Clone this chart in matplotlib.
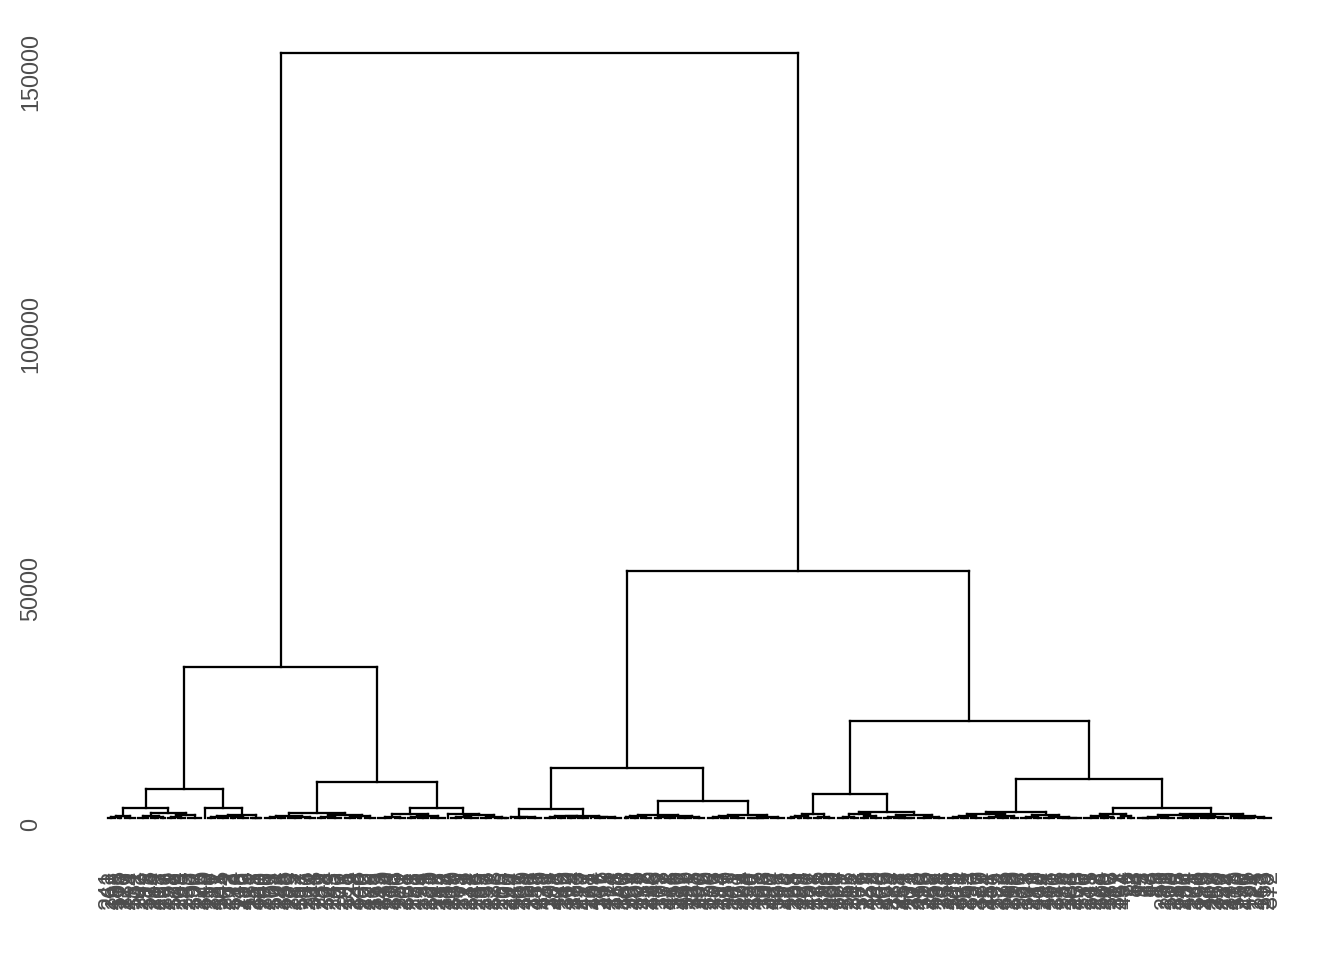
import matplotlib
matplotlib.use("Agg")
import matplotlib.pyplot as plt
from matplotlib.collections import LineCollection

# dolne grupy liści: [wysokość, lewe, prawe], liczba = paczka identycznych liści (wysokość 0)
groups = {
    "A1a_L": [420, [150, 3, 2], 4],
    "A1a_R": [900, [380, 4, [160, 3, 2]], [520, [200, 3, 3], 5]],
    "A1b_L": 1,
    "A1b_RL": [380, [120, 3, 4], [210, 2, 4]],
    "A1b_RR": [90, 2, 2],
    "A2_LL": [460, [170, 4, 3], [260, 5, 4]],
    "A2_LR": [640, [230, 3, 5], [300, [110, 4, 2], 4]],
    "A2_RL": [720, [250, 5, 4], [330, [140, 3, 4], 5]],
    "A2_RRL": 1,
    "A2_RRR": [520, [180, 4, 5], [240, 4, [90, 3, 2]]],
    "B1_LL": [260, 1, [120, 4, 5]],
    "B1_LRL": [300, [120, 4, 3], [150, 3, 4]],
    "B1_LRR": [280, 1, [130, 4, 5]],
    "B1_RLL": [380, [150, 2, 3], 4],
    "B1_RLR": [340, [110, 3, 4], [160, 5, 4]],
    "B1_RRL": [420, [160, 4, 3], 5],
    "B1_RRR": [260, [100, 3, 4], 5],
    "B2_LLL": [480, [170, 3, 2], 3],
    "B2_LLR": [200, 3, 4],
    "B2_LRL": [700, [260, 4, 3], [320, 3, 4]],
    "B2_LRR": [620, [200, 3, [90, 4, 3]], [280, 5, 4]],
    "B2_RLL": [820, [380, [150, 4, 3], 4], [450, [180, 4, 4], 3]],
    "B2_RLR": [560, [190, 4, 3], [240, 4, [100, 4, 4]]],
    "B2_RRL": [760, [300, 5, [120, 3, 2]], [340, 3, 3]],
    "B2_RRRL": [560, [260, [100, 4, 3], 5], [300, [130, 4, 3], [160, 5, 4]]],
    "B2_RRRR": [420, 1, [180, [80, 4, 3], 5]],
}

# górne połączenia
merge_name = ["A1a", "A1b_R", "A1b", "A1", "A2_L", "A2_RR", "A2_R", "A2", "A",
              "B1_LR", "B1_L", "B1_RL", "B1_RR", "B1_R", "B1",
              "B2_LL", "B2_LR", "B2_L", "B2_RL", "B2_RRR", "B2_RR", "B2_R", "B2",
              "B", "root"]
merge_left = ["A1a_L", "A1b_RL", "A1b_L", "A1a", "A2_LL", "A2_RRL", "A2_RL", "A2_L", "A1",
              "B1_LRL", "B1_LL", "B1_RLL", "B1_RRL", "B1_RL", "B1_L",
              "B2_LLL", "B2_LRL", "B2_LL", "B2_RLL", "B2_RRRL", "B2_RRL", "B2_RL", "B2_L",
              "B1", "A"]
merge_right = ["A1a_R", "A1b_RR", "A1b_R", "A1b", "A2_LR", "A2_RRR", "A2_RR", "A2_R", "A2",
               "B1_LRR", "B1_LR", "B1_RLR", "B1_RRR", "B1_RR", "B1_R",
               "B2_LLR", "B2_LRR", "B2_LR", "B2_RLR", "B2_RRRR", "B2_RRR", "B2_RR", "B2_R",
               "B2", "B"]
merge_height = [1850, 570, 1910, 5530, 1010, 700, 1850, 6930, 28800,
                440, 1660, 570, 570, 3240, 9540,
                760, 1200, 4580, 1200, 760, 1850, 7380, 18510,
                47130, 146150]

leaf_labels = """
241 263 188 305 117 226 279 154 331
102 247 199 318 166 284 213 137 296 251 178 322 109 268 145 233 190 307 126 275
340
158 219 287 131 345 204 262 173 314 148 236 292 119
181 255 327 140
209 270 163 301 123 246 335 186 229 282 152 317 197 260 134 343
211 289 168 324 143 253 106 277 195 311 129 238 348 160 222 299 175 266
113 243 330 184 216 303 150 272 201 337 128 258 171 294 139 231 320 192 285 157 248
114
207 339 165 278 121 234 312 146 256 183 297 136 227 333 176 265 105 290
144 417 262 105 339 481 226 158 413 370
431 149 307 288 423 166 242 310 195 334 453 219 477 128
261 404 147 336 292 415 174 321 456 240
383 109 251 468 325 197 438 212 360
446 179 303 232 171 418 355 286 127 443 399 211 365 137 290 422
350 176 408 233 184 316 459 241 101 372 229 494
254 120 387 435 163 306 245 180 424 367 152 298
412 165 238 301 189 427 256 402
171 446 218 395 133 260 409
384 229 151 367 215 342 198 376 121 237 459 192 349 206
162 440 223 387 118 254 467 131 203 378 243 110 396 225 169 452 139 211 385
258 129 316 201 374 162 245 393 136 227 380 114 251 457 135 299 222 366 148 212 390 130
257 105 343 271 182 419 126 294 437 161 210 348 175 286 124 333 200 455 173
250 141 315 297 128 364 269 140 388 217 322 191 454 36 72 58
14 95 27 63 48 19 86 53 281 132 309 216 368 147 236 404 175 261 346 120 283 439 117 208
359 226 152 244
277 113 330 258 170 435 91 24 225 163 353 218 372
""".split()

tree = {}
for nm, l, r, h in zip(merge_name, merge_left, merge_right, merge_height):
    tree[nm] = [h, l, r]

segs = []
counter = [0]


def draw(node):
    # zwraca (x, wysokość) węzła, segmenty dokładam do listy
    if isinstance(node, str):
        node = tree[node] if node in tree else groups[node]
    if isinstance(node, int):
        first = counter[0] + 1
        counter[0] += node
        last = counter[0]
        if node > 1:
            segs.append([(first, 0), (last, 0)])
        return (first + last) / 2, 0
    h, left, right = node
    x1, h1 = draw(left)
    x2, h2 = draw(right)
    segs.append([(x1, h1), (x1, h)])
    segs.append([(x1, h), (x2, h)])
    segs.append([(x2, h2), (x2, h)])
    return (x1 + x2) / 2, h


draw("root")
n = counter[0]
print("liscie:", n, "etykiety:", len(leaf_labels))

plt.rcParams['font.family'] = ['Liberation Sans', 'DejaVu Sans']
fig = plt.figure(figsize=(7, 5), dpi=192)
ax = fig.add_axes([50 / 1344, 1 - 856.3 / 960, 1279 / 1344, (856.3 - 14.7) / 960])

ax.add_collection(LineCollection(segs, colors='black', linewidths=0.85, capstyle='projecting'))

top = max(merge_height)
ax.set_xlim(1 - 0.05 * (n - 1), n + 0.05 * (n - 1))
ax.set_ylim(-0.05 * top, 1.05 * top)

ax.set_xticks(range(1, n + 1))
ax.set_xticklabels(leaf_labels[:n], rotation=90, fontsize=8.8, color='#4D4D4D')
ax.tick_params(axis='x', length=0, pad=5)

ax.set_yticks([0, 50000, 100000, 150000])
ax.set_yticklabels(["0", "50000", "100000", "150000"], fontsize=8.8, color='#4D4D4D')
for lab in ax.get_yticklabels():
    lab.set_rotation(90)
    lab.set_va('top')
ax.tick_params(axis='y', length=0, pad=3)

for s in ax.spines.values():
    s.set_visible(False)

fig.savefig("out.png", dpi=192)
